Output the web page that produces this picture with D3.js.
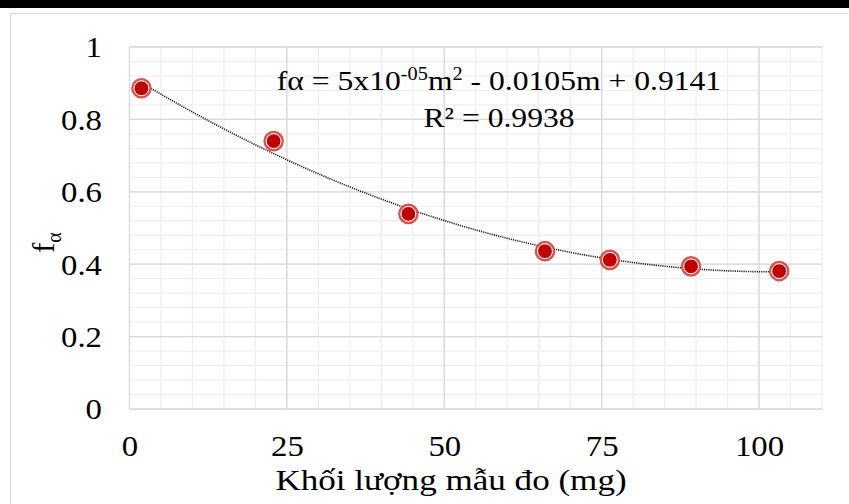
<!DOCTYPE html>
<html>
<head>
<meta charset="utf-8">
<script src="https://cdn.jsdelivr.net/npm/d3@7"></script>
<style>
  body { margin: 0; background: #fff; }
  svg text { font-family: "Liberation Serif", "Times New Roman", serif; fill: #000; }
</style>
</head>
<body>
<svg id="chart"></svg>
<script>
// data
var massMg = [1.9, 22.9, 44.3, 66.0, 76.3, 89.2, 103.2];
var fAlpha = [0.886, 0.740, 0.539, 0.436, 0.412, 0.394, 0.381];
var xTicks = [0, 25, 50, 75, 100];
var yTicks = [0, 0.2, 0.4, 0.6, 0.8, 1];
var xTickLabels = ["0", "25", "50", "75", "100"];
var yTickLabels = ["0", "0.2", "0.4", "0.6", "0.8", "1"];
var eqLine1 = ["fα = 5x10", "-05", "m", "2", " - 0.0105m + 0.9141"];
var eqLine2 = "R² = 0.9938";
var xTitle = "Khối lượng mẫu đo (mg)";

var width = 849,
    height = 504,
    stretch = 1.13; // the picture's text is a bit wider than plain Times

var svg = d3.select("#chart")
    .attr("width", width)
    .attr("height", height);

// top black rule and the light frame
svg.append("rect").attr("x", 0).attr("y", 0).attr("width", width).attr("height", 8).attr("fill", "#000");
svg.append("rect").attr("x", 10.5).attr("y", 13.5).attr("width", width).attr("height", height)
    .attr("fill", "none").attr("stroke", "#d9d9d9");

var x = d3.scaleLinear().domain([0, 110]).range([129.5, 822]);
var y = d3.scaleLinear().domain([0, 1]).range([409, 47]);

// minor grid
svg.append("g").selectAll("line")
    .data(d3.range(0, 110.01, 5))
  .enter().append("line")
    .attr("x1", function(d) { return x(d); }).attr("x2", function(d) { return x(d); })
    .attr("y1", y(0)).attr("y2", y(1))
    .attr("stroke", "#efefef").attr("stroke-width", 1.3);
svg.append("g").selectAll("line")
    .data(d3.range(0, 1.001, 0.04))
  .enter().append("line")
    .attr("y1", function(d) { return y(d); }).attr("y2", function(d) { return y(d); })
    .attr("x1", x(0)).attr("x2", x(110))
    .attr("stroke", "#efefef").attr("stroke-width", 1.3);

// major grid
svg.append("g").selectAll("line")
    .data(xTicks)
  .enter().append("line")
    .attr("x1", function(d) { return x(d); }).attr("x2", function(d) { return x(d); })
    .attr("y1", y(0)).attr("y2", y(1))
    .attr("stroke", "#d9d9d9").attr("stroke-width", 1.3);
svg.append("g").selectAll("line")
    .data(yTicks)
  .enter().append("line")
    .attr("y1", function(d) { return y(d); }).attr("y2", function(d) { return y(d); })
    .attr("x1", x(0)).attr("x2", x(110))
    .attr("stroke", "#d9d9d9").attr("stroke-width", 1.3);

// tick labels
var xAxis = d3.axisBottom(x).tickValues(xTicks).tickSize(0).tickPadding(0)
    .tickFormat(function(d, i) { return xTickLabels[i]; });
var gx = svg.append("g").attr("transform", "translate(0," + 456 + ")").call(xAxis)
    .attr("font-family", null).attr("font-size", null);
gx.select(".domain").remove();
gx.selectAll("text").attr("y", 0).attr("dy", null)
    .attr("transform", "scale(" + stretch + ",1)")
    .style("font-size", "29px");

var yAxis = d3.axisLeft(y).tickValues(yTicks).tickSize(0).tickPadding(0)
    .tickFormat(function(d, i) { return yTickLabels[i]; });
var gy = svg.append("g").attr("transform", "translate(" + 102 + ",0)").call(yAxis)
    .attr("font-family", null).attr("font-size", null);
gy.select(".domain").remove();
gy.selectAll("text").attr("x", 0).attr("dy", "0.34em")
    .attr("transform", "scale(" + stretch + ",1)")
    .style("font-size", "29px");

// quadratic least squares fit for the trendline
function quadFit(xs, ys) {
  var s = [0, 0, 0, 0, 0], t = [0, 0, 0];
  xs.forEach(function(v, i) {
    for (var k = 0; k < 5; k++) s[k] += Math.pow(v, k);
    for (var k2 = 0; k2 < 3; k2++) t[k2] += ys[i] * Math.pow(v, k2);
  });
  var m = [[s[0], s[1], s[2], t[0]], [s[1], s[2], s[3], t[1]], [s[2], s[3], s[4], t[2]]];
  for (var c = 0; c < 3; c++) {
    for (var r = c + 1; r < 3; r++) {
      var f = m[r][c] / m[c][c];
      for (var j = c; j < 4; j++) m[r][j] -= f * m[c][j];
    }
  }
  var b = [0, 0, 0];
  for (var r2 = 2; r2 >= 0; r2--) {
    var acc = m[r2][3];
    for (var j2 = r2 + 1; j2 < 3; j2++) acc -= m[r2][j2] * b[j2];
    b[r2] = acc / m[r2][r2];
  }
  return b;
}
var coef = quadFit(massMg, fAlpha);
var trendX = d3.range(massMg[0], massMg[massMg.length - 1] + 0.001, 0.5);
var line = d3.line()
    .x(function(d) { return x(d); })
    .y(function(d) { return y(coef[0] + coef[1] * d + coef[2] * d * d); });

svg.append("path")
    .datum(trendX)
    .attr("d", line)
    .attr("fill", "none")
    .attr("stroke", "#222")
    .attr("stroke-width", 1.6)
    .attr("stroke-dasharray", "1.2 1");

// markers
var pts = svg.append("g").selectAll("g")
    .data(massMg)
  .enter().append("g")
    .attr("transform", function(d, i) { return "translate(" + x(d) + "," + y(fAlpha[i]) + ")"; });
pts.append("circle").attr("r", 9).attr("fill", "none").attr("stroke", "#d9534f").attr("stroke-width", 2.6);
pts.append("circle").attr("r", 7.4).attr("fill", "#c00000").attr("stroke", "#fff").attr("stroke-width", 1);

// equation label
var eq = svg.append("text")
    .attr("transform", "translate(499,90) scale(" + stretch + ",1)")
    .attr("text-anchor", "middle")
    .style("font-size", "28px");
eq.append("tspan").text(eqLine1[0]);
eq.append("tspan").text(eqLine1[1]).attr("dy", -10).style("font-size", "18px");
eq.append("tspan").text(eqLine1[2]).attr("dy", 10);
eq.append("tspan").text(eqLine1[3]).attr("dy", -10).style("font-size", "18px");
eq.append("tspan").text(eqLine1[4]).attr("dy", 10);

svg.append("text")
    .attr("transform", "translate(499,127) scale(" + stretch + ",1)")
    .attr("text-anchor", "middle")
    .style("font-size", "28px")
    .text(eqLine2);

// axis titles
var yt = svg.append("text")
    .attr("transform", "translate(54,253) rotate(-90)")
    .style("font-size", "31px");
yt.append("tspan").text("f");
yt.append("tspan").text("α").attr("dy", 7).style("font-size", "20px");

svg.append("text")
    .attr("transform", "translate(451,490) scale(1.17,1)")
    .attr("text-anchor", "middle")
    .style("font-size", "30px")
    .text(xTitle);
</script>
</body>
</html>
